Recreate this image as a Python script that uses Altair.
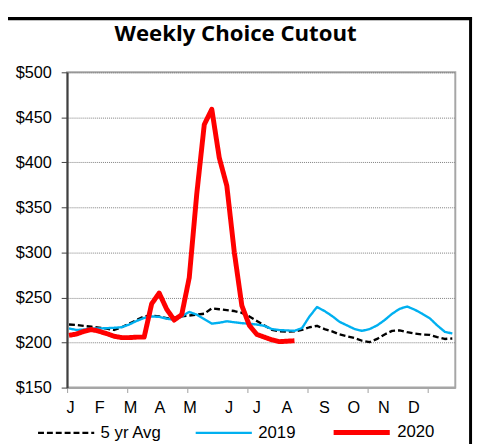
import altair as alt
import pandas as pd

# ---- data ----
series_names = ["5 yr Avg", "2019", "2020"]
weeks_full = list(range(1, 53))
weeks_2020 = list(range(1, 32))

price_avg = [220, 219.5, 218.5, 217.5, 216.5, 215.5, 214, 217, 221, 225,
             229, 230, 229, 227, 227.5, 229, 230, 231, 232, 238,
             237, 236, 235, 233, 229, 224, 219, 214, 212.5, 212,
             212.5, 214, 217, 218.6, 215, 212.5, 209, 207, 205, 202,
             200.5, 204, 209, 213, 213.5, 211.5, 210, 209, 208.5, 206,
             204, 204.5]
price_2019 = [215.6, 214, 214.5, 215.5, 215.6, 216, 216.4, 217, 220, 224,
              227.3, 229, 228.5, 226.6, 225, 229, 234, 231, 226, 221,
              222, 223.6, 222.5, 221.5, 221, 220, 218.5, 215, 213.8, 213.5,
              213, 216, 229, 239.4, 235, 229.5, 223, 219, 215, 213,
              215, 219, 225, 232, 237.5, 240, 236.5, 232, 227, 219,
              212, 210]
price_2020 = [208, 209.5, 212.5, 214.5, 212.5, 210, 207, 205.5, 205.5, 206,
              206, 243, 255, 237, 225, 231, 272, 365, 442, 459,
              405, 374, 300, 241, 219, 209, 206, 203, 201, 201.5,
              202]

month_labels = ["J", "F", "M", "A", "M", "J", "J", "A", "S", "O", "N", "D"]
month_pos = [1.2, 5.1, 9.2, 13.1, 17.1, 22.3, 26.0, 30.0, 35.0, 38.9, 42.9, 46.9]
y_ticks = [150, 200, 250, 300, 350, 400, 450, 500]
week_ticks = [0.75 + k for k in range(52)]
title_text = "Weekly Choice Cutout"

rows = []
for w, v in zip(weeks_full, price_avg):
    rows.append({"series": "5 yr Avg", "week": w, "price": v})
for w, v in zip(weeks_full, price_2019):
    rows.append({"series": "2019", "week": w, "price": v})
for w, v in zip(weeks_2020, price_2020):
    rows.append({"series": "2020", "week": w, "price": v})
df = pd.DataFrame(rows)

FONT = "Liberation Sans"
xs = alt.Scale(domain=[0.75, 52.4], nice=False, zero=False)
ys = alt.Scale(domain=[150, 500], nice=False, zero=False)

leg = dict(orient="none", legendX=-31, legendY=334.5, direction="horizontal",
           title=None, symbolType="stroke", symbolSize=3249, labelFont=FONT,
           labelFontSize=17, labelColor="#000", columnPadding=28, labelOffset=5,
           padding=0)

lines = alt.Chart(df).mark_line(strokeCap="butt", strokeJoin="round").encode(
    x=alt.X("week:Q", scale=xs,
            axis=alt.Axis(values=week_ticks, labels=False, title=None, grid=False,
                          tickSize=5, tickColor="#a0a0a0", tickWidth=1,
                          domainColor="#a6a6a6", domainWidth=2)),
    y=alt.Y("price:Q", scale=ys,
            axis=alt.Axis(values=y_ticks, labelExpr="'$' + datum.value", title=None,
                          grid=True, gridColor="#7f7f7f", gridDash=[1, 1], gridWidth=1,
                          tickSize=6, tickColor="#404040", tickWidth=1,
                          domainColor="#404040", domainWidth=2,
                          labelFont=FONT, labelFontSize=16.5, labelColor="#000",
                          labelPadding=10)),
    color=alt.Color("series:N", scale=alt.Scale(domain=series_names,
                    range=["#000000", "#00B0F0", "#FF0000"]), legend=alt.Legend(**leg)),
    strokeDash=alt.StrokeDash("series:N", scale=alt.Scale(type="ordinal", domain=series_names,
                    range=[[6, 3], [1, 0], [1, 0]]), legend=alt.Legend(**leg)),
    strokeWidth=alt.StrokeWidth("series:N", scale=alt.Scale(type="ordinal", domain=series_names,
                    range=[2.4, 2.4, 5]), legend=alt.Legend(**leg)),
    order="week:Q",
)

months_df = pd.DataFrame({"m": month_labels, "week": month_pos})
months = alt.Chart(months_df).mark_text(font=FONT, fontSize=16.5, color="#000",
                                        align="center", baseline="alphabetic").encode(
    x=alt.X("week:Q", scale=xs), y=alt.value(346), text="m:N")

title = alt.Chart(pd.DataFrame({"t": [title_text]})).mark_text(
    font="Open Sans", fontWeight="bold", fontSize=22.5, color="#000",
    align="center", baseline="alphabetic").encode(
    x=alt.value(171), y=alt.value(-32), text="t:N")

top_border = alt.Chart(pd.DataFrame({"a": [0]})).mark_rule(
    color="#000", strokeWidth=3.5).encode(
    x=alt.value(-70), x2=alt.value(411), y=alt.value(-54.5))
right_border = alt.Chart(pd.DataFrame({"a": [0]})).mark_rule(
    color="#000", strokeWidth=3).encode(
    x=alt.value(409.5), y=alt.value(-56), y2=alt.value(380))

chart = alt.layer(lines, months, title, top_border, right_border).properties(
    width=394, height=320,
    padding={"left": 60, "top": 62, "right": 20, "bottom": 56},
    autosize=alt.AutoSizeParams(type="none"),
).configure_view(stroke="#a6a6a6", strokeWidth=2)

chart.save("out.html", embed_options={"renderer": "svg", "actions": False})
